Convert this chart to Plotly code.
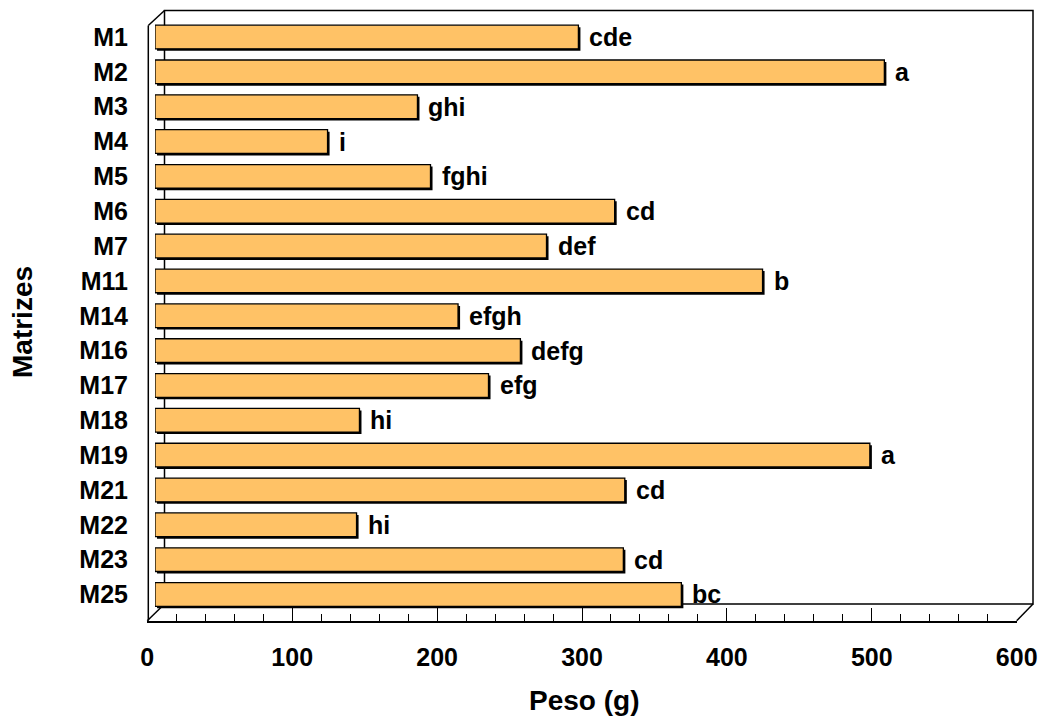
import plotly.graph_objects as go

# Peso médio por matriz, com as letras do teste de médias
matrizes = ["M1", "M2", "M3", "M4", "M5", "M6", "M7", "M11", "M14", "M16",
            "M17", "M18", "M19", "M21", "M22", "M23", "M25"]
peso = [292, 503, 181, 119, 190, 317, 270, 419, 209, 252,
        230, 141, 493, 324, 139, 323, 363]
letras = ["cde", "a", "ghi", "i", "fghi", "cd", "def", "b", "efgh", "defg",
          "efg", "hi", "a", "cd", "hi", "cd", "bc"]
x_ticks = [0, 100, 200, 300, 400, 500, 600]

W, H = 1041, 717
FONT = "Liberation Sans, Arial, sans-serif"
FILL = "#FFC266"


def px(x):
    return x / W


def py(y):
    return 1 - y / H


bar_w = 0.68
shadow_dx = 1.4      # in data units (~2 px)
shadow_dy = 0.057    # in category units (~2 px)

fig = go.Figure()

# dark offset copy of each bar, gives the thick right/bottom edge
fig.add_trace(go.Bar(
    y=matrizes, x=peso, base=shadow_dx, orientation="h",
    width=bar_w, offset=-bar_w / 2 + shadow_dy,
    marker=dict(color="black", line=dict(width=0)),
    hoverinfo="skip", showlegend=False,
))
fig.add_trace(go.Bar(
    y=matrizes, x=peso, orientation="h",
    width=bar_w, offset=-bar_w / 2,
    marker=dict(color=FILL, line=dict(color="black", width=1.3)),
    hoverinfo="skip", showlegend=False,
))
# front floor axis carrying the scale
fig.add_trace(go.Scatter(
    x=[0], y=[0], xaxis="x2", yaxis="y2", mode="markers",
    marker=dict(opacity=0), hoverinfo="skip", showlegend=False,
))

for m, v, l in zip(matrizes, peso, letras):
    fig.add_annotation(
        x=v + shadow_dx, y=m, text=l, showarrow=False,
        xanchor="left", yanchor="middle", xshift=7,
        font=dict(family=FONT, size=25, color="black", weight="bold"),
    )

# 3-D frame: back wall, left wall edge and floor diagonals
line = dict(color="black", width=1.5)
shapes = [
    dict(type="rect", xref="paper", yref="paper",
         x0=px(164.5), x1=px(1033), y0=py(604), y1=py(10.5),
         line=line, fillcolor="white", layer="below"),
    dict(type="line", xref="paper", yref="paper",
         x0=px(148.3), x1=px(148.3), y0=py(620.7), y1=py(25.5),
         line=line, layer="below"),
    dict(type="line", xref="paper", yref="paper",
         x0=px(148.3), x1=px(164.5), y0=py(25.5), y1=py(10.5),
         line=line, layer="below"),
    dict(type="line", xref="paper", yref="paper",
         x0=px(147.3), x1=px(164.5), y0=py(620.7), y1=py(604),
         line=line, layer="below"),
    dict(type="line", xref="paper", yref="paper",
         x0=px(1016.7), x1=px(1033), y0=py(620.7), y1=py(604),
         line=line, layer="below"),
]

fig.add_annotation(
    x=px(584), y=py(700), xref="paper", yref="paper", text="Peso (g)",
    showarrow=False, xanchor="center", yanchor="middle",
    font=dict(family=FONT, size=28, color="black", weight="bold"),
)
fig.add_annotation(
    x=px(23), y=py(322), xref="paper", yref="paper", text="Matrizes",
    showarrow=False, textangle=-90, xanchor="center", yanchor="middle",
    font=dict(family=FONT, size=28, color="black", weight="bold"),
)

fig.update_layout(
    width=W, height=H,
    margin=dict(l=0, r=0, t=0, b=0, autoexpand=False),
    paper_bgcolor="white", plot_bgcolor="rgba(0,0,0,0)",
    barmode="overlay",
    shapes=shapes,
    xaxis=dict(domain=[px(155), px(1025)], range=[0, 600],
               automargin=False,
               showgrid=False, zeroline=False, showline=False,
               showticklabels=False, ticks=""),
    yaxis=dict(domain=[py(611.9), py(19.6)], autorange="reversed",
               automargin=False,
               type="category", showgrid=False, zeroline=False,
               showline=False, ticks="", ticklabelstandoff=26,
               tickfont=dict(family=FONT, size=25, color="black",
                             weight="bold")),
    xaxis2=dict(domain=[px(147.3), px(1016.7)], range=[0, 600],
                anchor="y2", tickvals=x_ticks, automargin=False,
                showgrid=False, zeroline=False,
                showline=True, linecolor="black", linewidth=1.5,
                ticks="inside", ticklen=13, tickwidth=1.3,
                tickcolor="black", ticklabelstandoff=14,
                minor=dict(ticks="inside", ticklen=7, dtick=20,
                           tickwidth=1.3, tickcolor="black",
                           showgrid=False),
                tickfont=dict(family=FONT, size=25, color="black",
                              weight="bold")),
    yaxis2=dict(domain=[py(620.7), py(590)], range=[0, 1],
                automargin=False, visible=False),
)

fig.write_html("out.html")
